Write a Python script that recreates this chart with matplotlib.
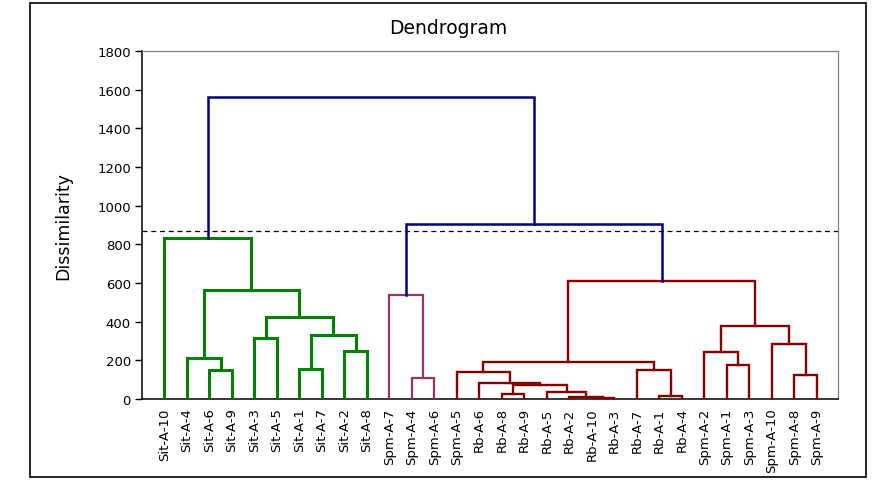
import matplotlib.pyplot as plt
from matplotlib.patches import Rectangle

plt.rcParams['font.family'] = ['DejaVu Sans']

# leaves in display order
labels = ['Sit-A-10', 'Sit-A-4', 'Sit-A-6', 'Sit-A-9', 'Sit-A-3', 'Sit-A-5',
          'Sit-A-1', 'Sit-A-7', 'Sit-A-2', 'Sit-A-8',
          'Spm-A-7', 'Spm-A-4', 'Spm-A-6', 'Spm-A-5',
          'Rb-A-6', 'Rb-A-8', 'Rb-A-9', 'Rb-A-5', 'Rb-A-2', 'Rb-A-10',
          'Rb-A-3', 'Rb-A-7', 'Rb-A-1', 'Rb-A-4',
          'Spm-A-2', 'Spm-A-1', 'Spm-A-3', 'Spm-A-10', 'Spm-A-8', 'Spm-A-9']

# merges: node ids continue after leaves (30, 31, ...)
merge_left = [2, 1, 6, 8, 32, 4, 35, 31, 0,
              11, 10,
              19, 18, 17, 15, 44, 14, 13, 22, 21, 47, 25, 24, 28, 27, 52, 50,
              40, 38]
merge_right = [3, 30, 7, 9, 33, 5, 34, 36, 37,
               12, 39,
               20, 41, 42, 16, 43, 45, 46, 23, 48, 49, 26, 51, 29, 53, 54, 55,
               56, 57]
merge_height = [149, 214, 154, 250, 332, 318, 425, 565, 832,
                108, 537,
                4, 8, 38, 24, 74, 84, 141, 17, 150, 193, 176, 245, 124, 285, 377, 610,
                905, 1560]
merge_group = ['Sit'] * 9 + ['SpmA'] * 2 + ['Rb'] * 16 + ['top'] * 2

colors = {'Sit': '#008000', 'SpmA': '#993366', 'Rb': '#800000', 'top': '#000080'}
widths = {'Sit': 2.2, 'SpmA': 1.6, 'Rb': 1.7, 'top': 1.8}
cut_level = 870

fig = plt.figure(figsize=(8.86, 4.89), dpi=100)
ax = fig.add_axes([142 / 886, 1 - 400 / 489, 696 / 886, 348 / 489])

n = len(labels)
pos = {i: (float(i), 0.0) for i in range(n)}
for k, (a, b, h, g) in enumerate(zip(merge_left, merge_right, merge_height, merge_group)):
    xa, ya = pos[a]
    xb, yb = pos[b]
    ax.plot([xa, xa, xb, xb], [ya, h, h, yb], color=colors[g], lw=widths[g],
            solid_joinstyle='miter', solid_capstyle='projecting', zorder=3)
    pos[n + k] = ((xa + xb) / 2, h)

ax.axhline(cut_level, color='black', lw=0.9, ls=(0, (4, 3)), zorder=2)

ax.set_xlim(-0.99, 29.94)
ax.set_ylim(0, 1800)
ax.set_yticks(range(0, 1801, 200))
ax.set_xticks(range(n))
ax.set_xticklabels(labels, rotation=90, fontsize=9.5)
ax.tick_params(axis='x', length=0, pad=6)
ax.tick_params(axis='y', direction='out', length=5, width=1, labelsize=9.5, pad=3)
for s in ['top', 'right']:
    ax.spines[s].set_color('#808080')
    ax.spines[s].set_linewidth(0.9)
for s in ['left', 'bottom']:
    ax.spines[s].set_color('black')
    ax.spines[s].set_linewidth(1.1)

ax.set_ylabel('Dissimilarity', fontsize=12.5, labelpad=18)
fig.text(448 / 886, 1 - 29 / 489, 'Dendrogram', ha='center', va='center', fontsize=13.5)

fig.patches.append(Rectangle((30 / 886, 11 / 489), 836 / 886, 474 / 489,
                             transform=fig.transFigure, fill=False,
                             edgecolor='black', lw=1.2))

fig.savefig('out.png', dpi=100)
